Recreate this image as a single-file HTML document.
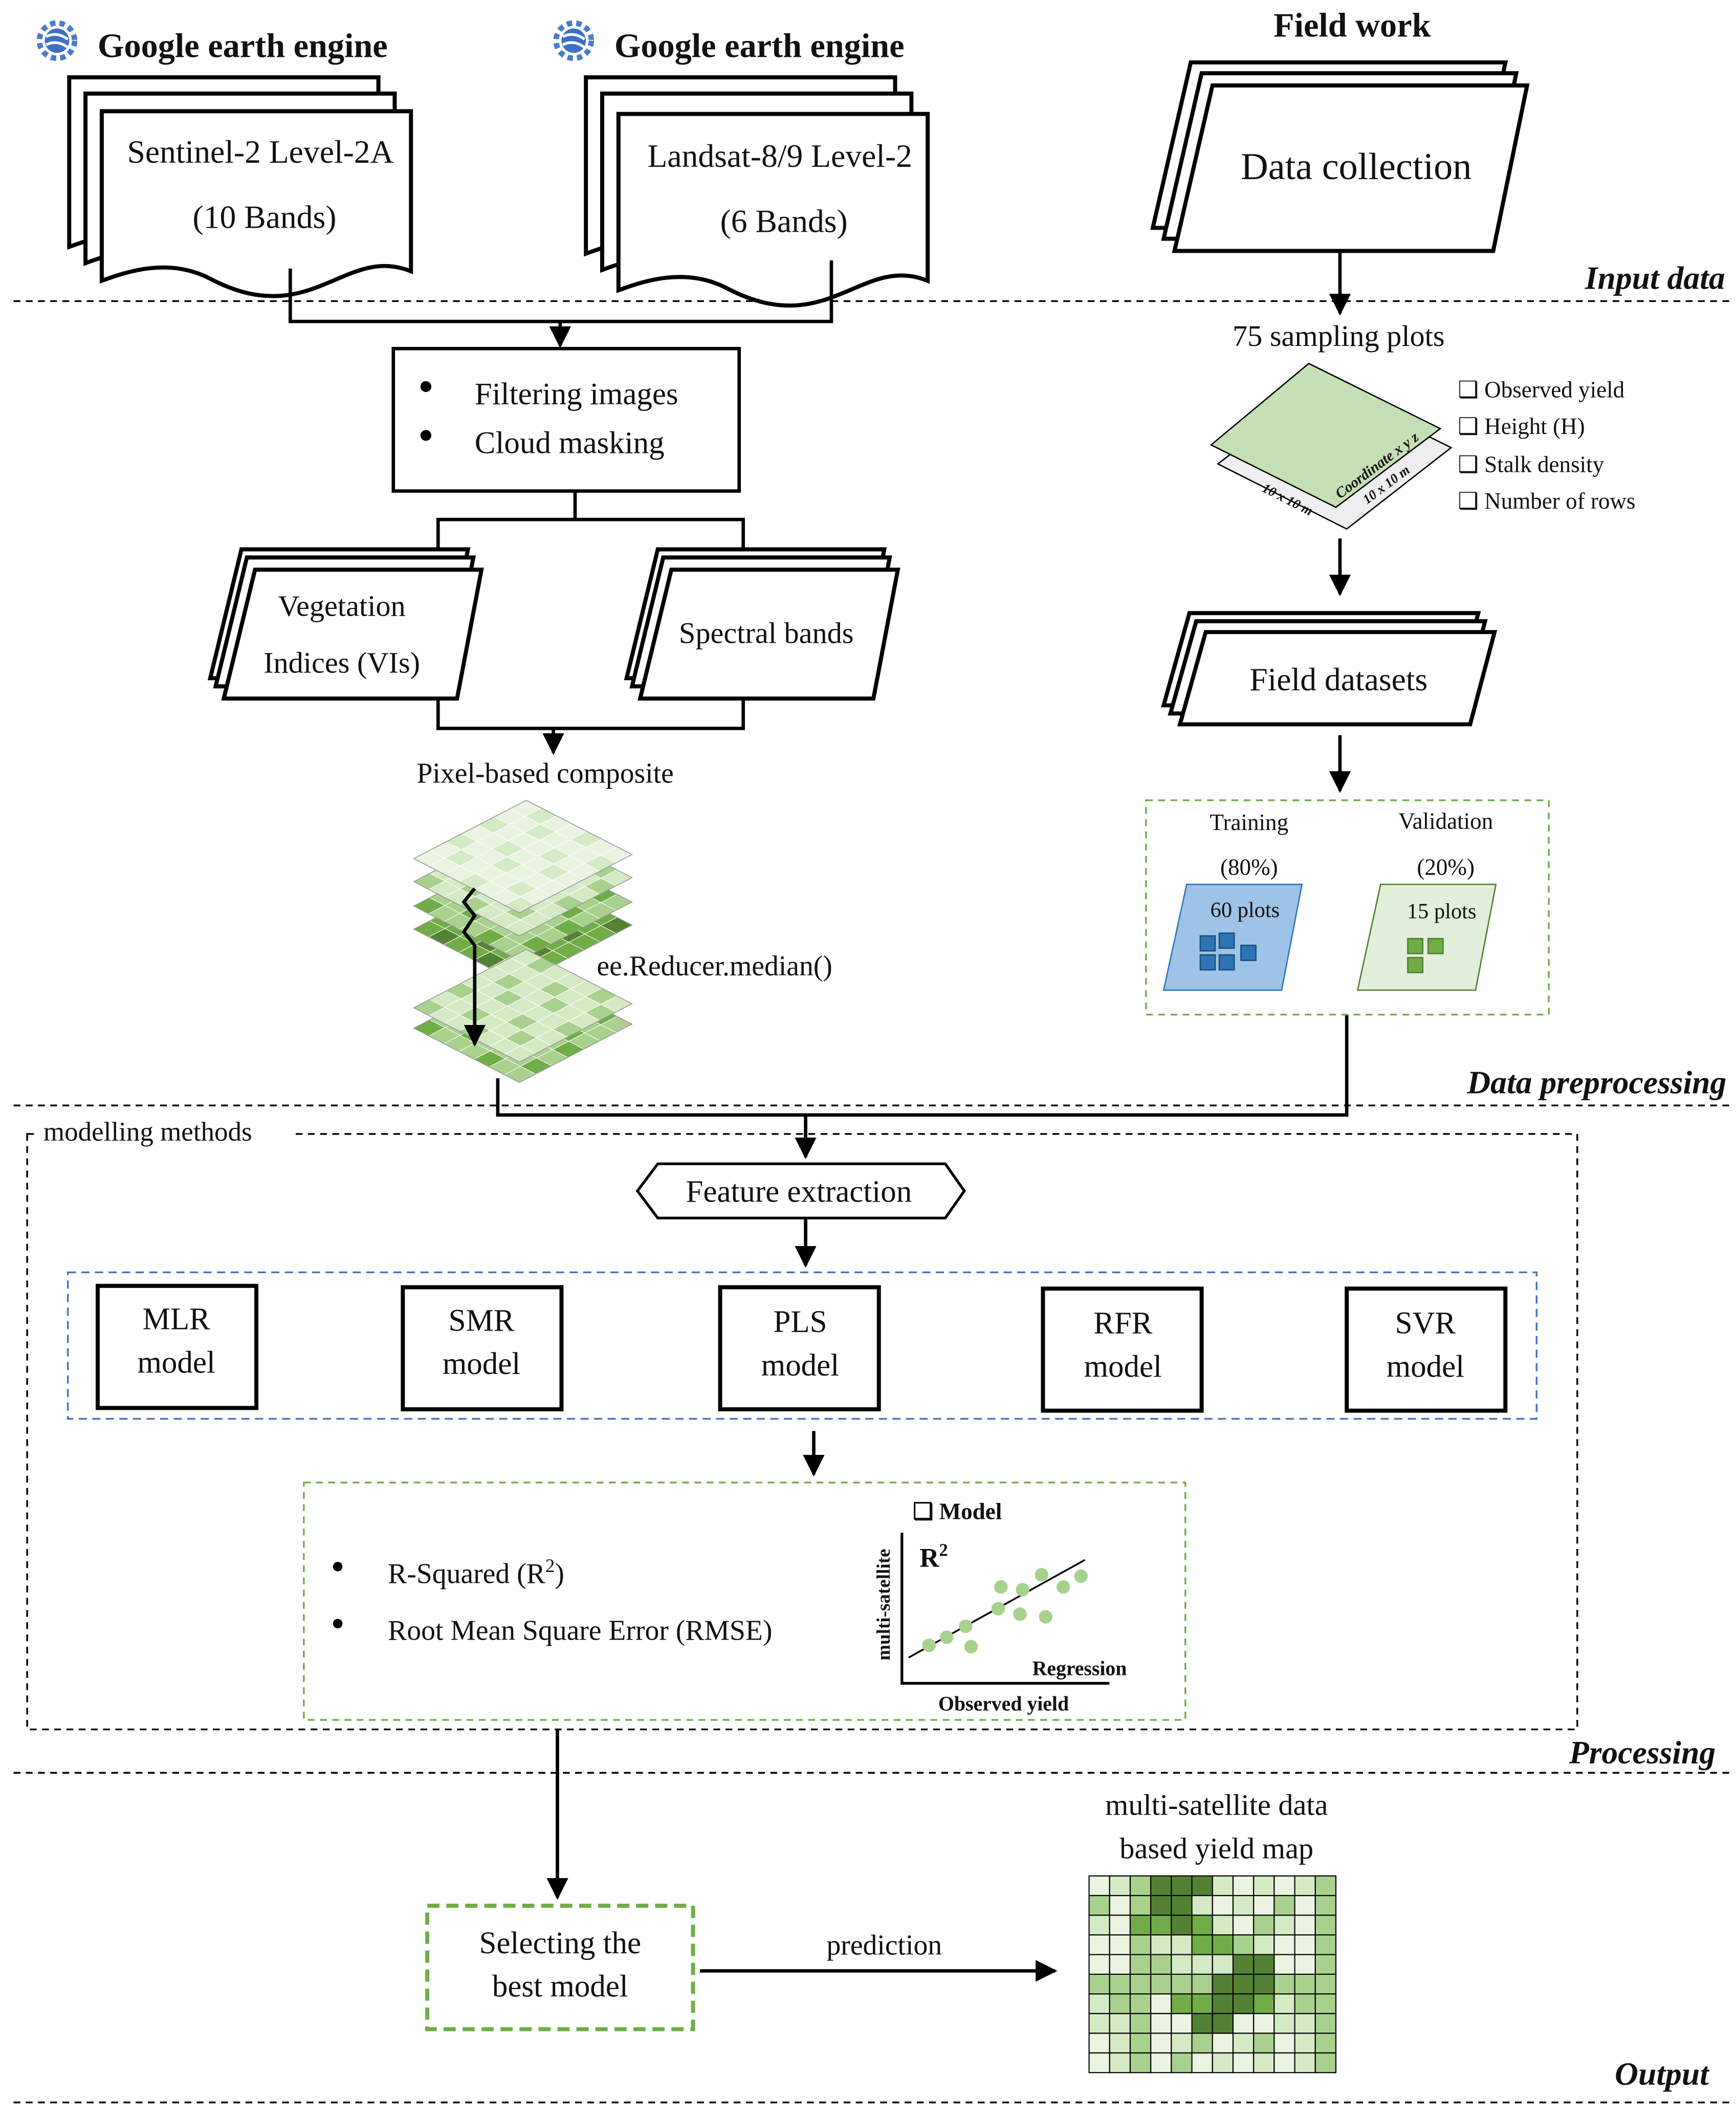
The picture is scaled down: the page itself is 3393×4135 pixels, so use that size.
<!DOCTYPE html>
<html><head><meta charset="utf-8"><style>
html,body{margin:0;padding:0;background:#fff}
svg{display:block}
text{font-family:"Liberation Serif",serif;fill:#111}
.b{font-weight:bold}
</style></head><body>
<svg id="s" width="3393" height="4135" viewBox="0 0 1280 1560" xmlns="http://www.w3.org/2000/svg">
<defs>
<marker id="ar" markerWidth="8" markerHeight="8" refX="6" refY="4" orient="auto" markerUnits="userSpaceOnUse"><path d="M0,0 L8,4 L0,8 z" fill="#000"/></marker>
<marker id="ah" viewBox="0 0 10 10" refX="9" refY="5" markerWidth="16" markerHeight="16" orient="auto" markerUnits="userSpaceOnUse"><path d="M0,0 L10,5 L0,10 z" fill="#000"/></marker>
</defs>
<g fill="none" stroke="#000" stroke-width="1.3" stroke-dasharray="5,4">
<line x1="10" y1="222" x2="1275" y2="222"/>
<line x1="10" y1="815" x2="1275" y2="815"/>
<line x1="10" y1="1307" x2="1275" y2="1307"/>
<line x1="10" y1="1550" x2="1275" y2="1550"/>
<rect x="20" y="836" width="1143" height="439"/>
</g>
<text x="1272" y="213" font-size="24" class="b" font-style="italic" text-anchor="end">Input data</text>
<text x="1273" y="806" font-size="24" class="b" font-style="italic" text-anchor="end">Data preprocessing</text>
<text x="1265" y="1300" font-size="24" class="b" font-style="italic" text-anchor="end">Processing</text>
<text x="1260" y="1537" font-size="24" class="b" font-style="italic" text-anchor="end">Output</text>
<rect x="28" y="824" width="186" height="22" fill="#fff"/>
<text x="32" y="841" font-size="20">modelling methods</text>

<!-- GEE headers -->
<g id="gee">
<circle cx="42" cy="30" r="13" fill="none" stroke="#4a7cc9" stroke-width="4" stroke-dasharray="4,3"/>
<circle cx="42" cy="30" r="9" fill="#3d6fc4"/>
<path d="M34,27 q8,-4 16,2 M34,33 q8,-4 16,2" stroke="#fff" stroke-width="2" fill="none"/>
</g>
<use href="#gee" x="381" y="0"/>
<text x="72" y="42" font-size="25" class="b">Google earth engine</text>
<text x="453" y="42" font-size="25" class="b">Google earth engine</text>
<text x="997" y="27" font-size="25" class="b" text-anchor="middle">Field work</text>

<!-- docs -->
<g fill="#fff" stroke="#000" stroke-width="3">
<path id="d1" d="M51,57 H279 V175 C230,155 205,220 130,180 C100,165 70,175 51,182 Z"/>
<use href="#d1" x="12" y="12"/>
<use href="#d1" x="24" y="25"/>
<path id="d2" d="M432,57 H660 V180 C611,160 586,225 511,185 C481,170 451,180 432,187 Z"/>
<use href="#d2" x="12" y="12"/>
<use href="#d2" x="24" y="27"/>
<path id="p1" d="M878,46 H1110 L1085,168 H850 Z"/>
<use href="#p1" x="8" y="8"/>
<use href="#p1" x="16" y="17"/>
</g>
<text x="192" y="120" font-size="24" text-anchor="middle">Sentinel-2 Level-2A</text>
<text x="195" y="168" font-size="24" text-anchor="middle">(10 Bands)</text>
<text x="575" y="123" font-size="24" text-anchor="middle">Landsat-8/9 Level-2</text>
<text x="578" y="171" font-size="24" text-anchor="middle">(6 Bands)</text>
<text x="1000" y="132" font-size="28" text-anchor="middle">Data collection</text>

<g fill="none" stroke="#000" stroke-width="2.5">
<path d="M214,198 V237 H613 V192"/>
<path d="M413,237 V255" marker-end="url(#ah)"/>
<path d="M988,185 V231" marker-end="url(#ah)"/>
<rect x="290" y="257" width="255" height="105"/>
<path d="M424,362 V383 H323 V405 M424,383 H548 V405"/>
<path d="M323,515 V537 H548 V515 M408,537 V555" marker-end="url(#ah)"/>
<path d="M988,397 V438" marker-end="url(#ah)"/>
<path d="M988,542 V583" marker-end="url(#ah)"/>
<path d="M993,748 V822 H367 V795"/>
<path d="M594,822 V853" marker-end="url(#ah)"/>
<path d="M594,898 V933" marker-end="url(#ah)"/>
<path d="M600,1055 V1087" marker-end="url(#ah)"/>
<path d="M411,1275 V1399" marker-end="url(#ah)"/>
<path d="M516,1453 H778" marker-end="url(#ah)"/>
</g>
<circle cx="314" cy="285" r="4"/><circle cx="314" cy="321" r="4"/>
<text x="350" y="298" font-size="23">Filtering images</text>
<text x="350" y="334" font-size="23">Cloud masking</text>

<g fill="#fff" stroke="#000" stroke-width="3">
<path id="p2" d="M178,405 H345 L327,500 H155 Z"/>
<use href="#p2" x="4" y="6"/><use href="#p2" x="10" y="15"/>
<path id="p3" d="M485,405 H652 L634,500 H462 Z"/>
<use href="#p3" x="4" y="6"/><use href="#p3" x="10" y="15"/>
<path id="p4" d="M877,452 H1090 L1072,520 H858 Z"/>
<use href="#p4" x="5" y="6"/><use href="#p4" x="12" y="14"/>
</g>
<text x="252" y="454" font-size="22" text-anchor="middle">Vegetation</text>
<text x="252" y="496" font-size="22" text-anchor="middle">Indices (VIs)</text>
<text x="565" y="474" font-size="22" text-anchor="middle">Spectral bands</text>
<text x="987" y="509" font-size="24" text-anchor="middle">Field datasets</text>
<text x="402" y="577" font-size="21" text-anchor="middle">Pixel-based composite</text>
<text x="440" y="719" font-size="21">ee.Reducer.median()</text>

<g id="layers"></g>
<path d="M350,655 L342,665 L350,675 L342,687 L350,697 V770" fill="none" stroke="#000" stroke-width="2.5" marker-end="url(#ah)"/>

<!-- sample plot -->
<path d="M975,283 L1070,330 L993,390 L898,342 Z" fill="#eee" stroke="#000" stroke-width="1"/>
<path d="M965,268 L1062,316 L985,374 L893,328 Z" fill="#c5e0b4" stroke="#000" stroke-width="1"/>
<text x="0" y="0" font-size="11" class="b" font-style="italic" transform="translate(988,368) rotate(-37)">Coordinate x y z</text>
<text x="0" y="0" font-size="10" class="b" font-style="italic" transform="translate(930,362) rotate(27)">10 x 10 m</text>
<text x="0" y="0" font-size="10" class="b" font-style="italic" transform="translate(1008,372) rotate(-37)">10 x 10 m</text>
<text x="987" y="255" font-size="22" text-anchor="middle">75 sampling plots</text>
<g font-size="17">
<text x="1075" y="293">❑ Observed yield</text>
<text x="1075" y="320">❑ Height (H)</text>
<text x="1075" y="348">❑ Stalk density</text>
<text x="1075" y="375">❑ Number of rows</text>
</g>

<rect x="845" y="590" width="297" height="158" fill="none" stroke="#70ad47" stroke-width="1.3" stroke-dasharray="5,4"/>
<g font-size="17" text-anchor="middle">
<text x="921" y="612">Training</text><text x="921" y="645">(80%)</text>
<text x="1066" y="611">Validation</text><text x="1066" y="645">(20%)</text>
</g>
<path d="M875,652 H960 L945,730 H858 Z" fill="#9dc3e6" stroke="#2e75b6"/>
<path d="M1018,652 H1103 L1088,730 H1001 Z" fill="#e2efda" stroke="#507e32"/>
<text x="918" y="676" font-size="16" text-anchor="middle">60 plots</text>
<text x="1063" y="677" font-size="16" text-anchor="middle">15 plots</text>
<g fill="#2e75b6" stroke="#1f4e79"><rect x="885" y="690" width="11" height="11"/><rect x="899" y="688" width="11" height="11"/><rect x="915" y="697" width="11" height="11"/><rect x="885" y="704" width="11" height="11"/><rect x="899" y="704" width="11" height="11"/></g>
<g fill="#70ad47" stroke="#507e32"><rect x="1038" y="692" width="11" height="11"/><rect x="1053" y="692" width="11" height="11"/><rect x="1038" y="706" width="11" height="11"/></g>

<!-- processing -->
<path d="M470,878 L485,858 H697 L711,878 L697,898 H485 Z" fill="#fff" stroke="#000" stroke-width="2"/>
<text x="589" y="886" font-size="23" text-anchor="middle">Feature extraction</text>
<rect x="50" y="938" width="1083" height="108" fill="none" stroke="#4472c4" stroke-width="1.3" stroke-dasharray="6,4"/>
<g fill="#fff" stroke="#000" stroke-width="3">
<rect x="72" y="948" width="117" height="90"/><rect x="297" y="949" width="117" height="90"/><rect x="531" y="949" width="117" height="90"/><rect x="769" y="950" width="117" height="90"/><rect x="993" y="950" width="117" height="90"/>
</g>
<g font-size="23" text-anchor="middle">
<text x="130" y="980">MLR</text><text x="130" y="1012">model</text>
<text x="355" y="981">SMR</text><text x="355" y="1013">model</text>
<text x="590" y="982">PLS</text><text x="590" y="1014">model</text>
<text x="828" y="983">RFR</text><text x="828" y="1015">model</text>
<text x="1051" y="983">SVR</text><text x="1051" y="1015">model</text>
</g>
<rect x="224" y="1093" width="650" height="175" fill="none" stroke="#70ad47" stroke-width="1.3" stroke-dasharray="5,4"/>
<circle cx="249" cy="1155" r="3.5"/><circle cx="249" cy="1197" r="3.5"/>
<text x="286" y="1167" font-size="21">R-Squared (R<tspan dy="-8" font-size="14">2</tspan><tspan dy="8">)</tspan></text>
<text x="286" y="1209" font-size="21">Root Mean Square Error (RMSE)</text>
<path d="M665,1130 V1241 H818" fill="none" stroke="#000" stroke-width="2"/>
<line x1="670" y1="1222" x2="800" y2="1150" stroke="#000" stroke-width="1.3"/>
<g fill="#a9d18e"><circle cx="685" cy="1213" r="5"/><circle cx="698" cy="1207" r="5"/><circle cx="712" cy="1199" r="5"/><circle cx="716" cy="1214" r="5"/><circle cx="736" cy="1186" r="5"/><circle cx="738" cy="1170" r="5"/><circle cx="752" cy="1190" r="5"/><circle cx="754" cy="1172" r="5"/><circle cx="768" cy="1161" r="5"/><circle cx="771" cy="1192" r="5"/><circle cx="784" cy="1170" r="5"/><circle cx="797" cy="1162" r="5"/></g>
<text x="673" y="1120" font-size="17" class="b">❑ Model</text>
<text x="678" y="1155" font-size="20" class="b">R<tspan dy="-8" font-size="13">2</tspan></text>
<text x="0" y="0" font-size="14" class="b" text-anchor="middle" transform="translate(656,1183) rotate(-90)">multi-satellite</text>
<text x="796" y="1235" font-size="15" class="b" text-anchor="middle">Regression</text>
<text x="740" y="1261" font-size="15" class="b" text-anchor="middle">Observed yield</text>

<!-- output -->
<rect x="315" y="1405" width="196" height="91" fill="none" stroke="#70ad47" stroke-width="3" stroke-dasharray="9,5"/>
<text x="413" y="1440" font-size="23" text-anchor="middle">Selecting the</text>
<text x="413" y="1472" font-size="23" text-anchor="middle">best model</text>
<text x="652" y="1441" font-size="21" text-anchor="middle">prediction</text>
<text x="897" y="1338" font-size="22" text-anchor="middle">multi-satellite data</text>
<text x="897" y="1370" font-size="22" text-anchor="middle">based yield map</text>
<g id="map"></g>
</svg>
<script>
var NS="http://www.w3.org/2000/svg";
function el(p,t,a){var e=document.createElementNS(NS,t);for(var k in a)e.setAttribute(k,a[k]);p.appendChild(e);return e;}
var cols=["#eaf4e0","#d4eac4","#a9d18e","#70ad47","#548235"];
// map
var m=document.getElementById("map");
var dark=[[0,3],[0,4],[0,5],[1,3],[1,4],[2,4],[4,7],[4,8],[5,6],[5,7],[5,8],[6,6],[6,7],[7,5],[7,6]];
var x0=803,y0=1383,w=182/12,h=145/10;
for(var r=0;r<10;r++)for(var c=0;c<12;c++){
 var v=(r*7+c*13+r*c)%9; var f=v<4?cols[0]:v<7?cols[1]:cols[2];
 for(var i=0;i<dark.length;i++)if(dark[i][0]==r&&dark[i][1]==c)f=cols[4];
 if((r==2&&c>=2&&c<=5)||(r==3&&c>=5&&c<=6)||(r==6&&c>=4&&c<=8))f=(f==cols[4])?f:cols[3];
 el(m,"rect",{x:x0+c*w,y:y0+r*h,width:w,height:h,fill:f,stroke:"#000","stroke-width":0.8});
}
// layers
var L=document.getElementById("layers");
function layer(tx,ty,shade){
 var ux=78/7,uy=40/7,vx=-83/7,vy=43/7;
 for(var i=0;i<7;i++)for(var j=0;j<7;j++){
  var ax=tx+i*ux+j*vx, ay=ty+i*uy+j*vy;
  var k=(i*5+j*3+shade)%7; var f=cols[Math.min(4,shade+(k>4?1:0))];
  el(L,"path",{d:"M"+ax+","+ay+" l"+ux+","+uy+" l"+vx+","+vy+" l"+(-ux)+","+(-uy)+"z",fill:f,stroke:"#fff","stroke-width":0.4});
 }
 el(L,"path",{d:"M"+tx+","+ty+" l78,40 l-83,43 l-78,-40 z",fill:"none",stroke:"#999","stroke-width":0.6});
}
layer(388,642,3);layer(388,625,2);layer(388,607,1);layer(388,590,0);
layer(388,715,2);layer(388,700,1);
</script>
</body></html>
